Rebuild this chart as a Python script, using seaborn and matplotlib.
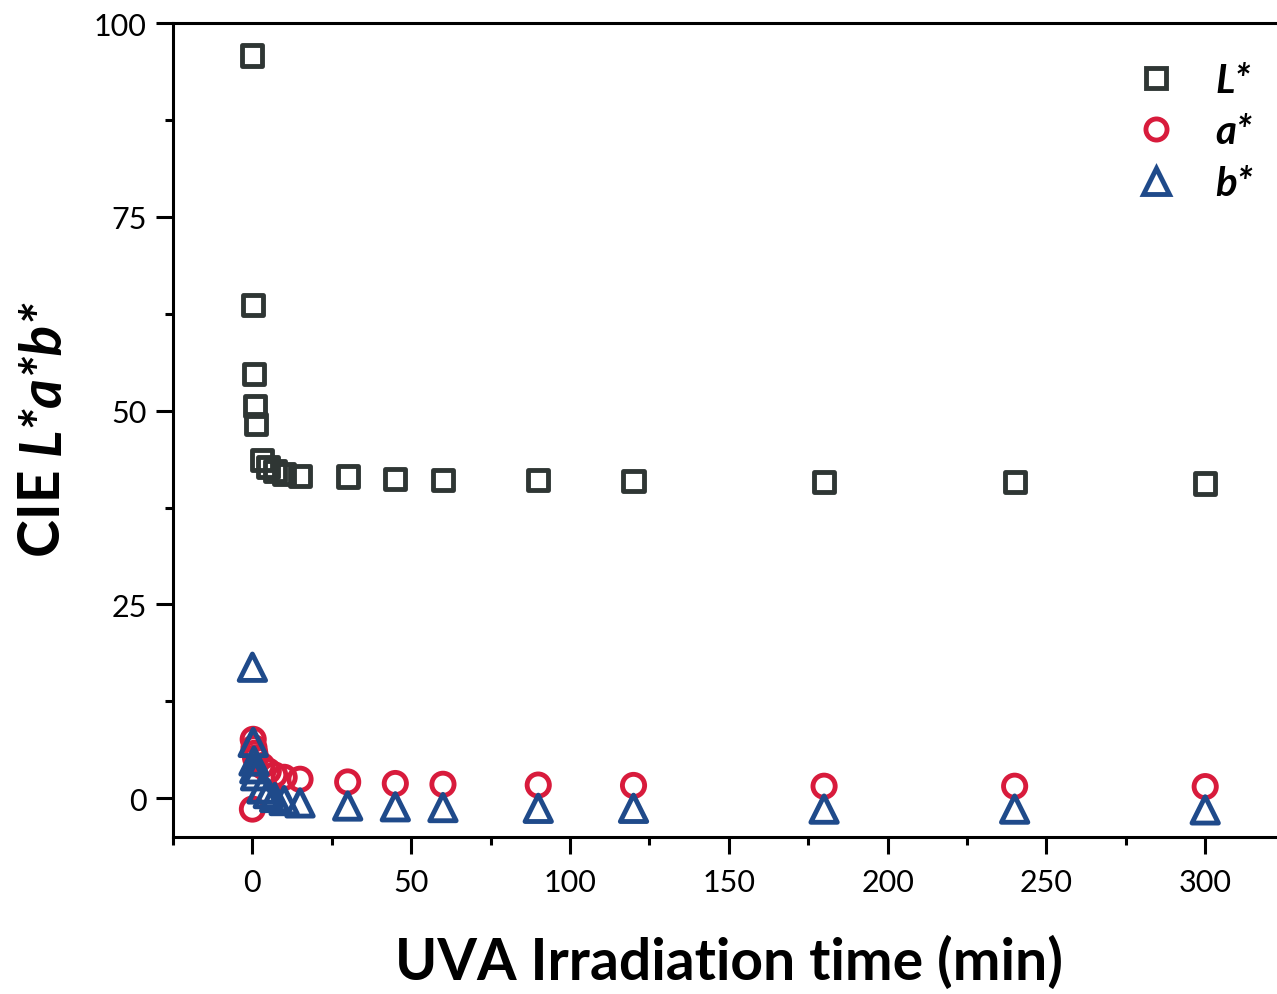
import matplotlib
matplotlib.use("Agg")
import matplotlib.pyplot as plt
import seaborn as sns
import numpy as np
from matplotlib.ticker import MultipleLocator
from matplotlib.lines import Line2D

# ---- data ----
time_min = [0, 0.25, 0.5, 0.75, 1, 3, 5, 7, 10, 15, 30, 45, 60, 90, 120, 180, 240, 300]
L_star = [95.8, 63.6, 54.7, 50.6, 48.3, 43.6, 42.7, 42.2, 41.8, 41.6, 41.5, 41.2, 41.0, 41.0, 40.9, 40.8, 40.8, 40.6]
a_star = [-1.4, 7.6, 6.5, 5.8, 5.2, 4.2, 3.5, 3.0, 2.7, 2.45, 2.1, 1.9, 1.8, 1.7, 1.65, 1.55, 1.55, 1.5]
b_star = [16.9, 7.2, 4.8, 3.8, 2.9, 1.2, 0.6, 0.1, -0.3, -0.6, -1.0, -1.1, -1.2, -1.3, -1.3, -1.4, -1.4, -1.5]
series_labels = ["L*", "a*", "b*"]
x_ticks = [0, 50, 100, 150, 200, 250, 300]
y_ticks = [0, 25, 50, 75, 100]

colors = ["#2f3634", "#d81b3c", "#1f4a8a"]
markers = ["s", "o", "^"]
sizes = [14.5, 16.0, 19.0]
edge_w = 3.5

sns.set_theme(style="white")
plt.rcParams["font.family"] = ["Lato", "DejaVu Sans"]
plt.rcParams["text.color"] = "black"

W, H = 1277, 995
fig = plt.figure(figsize=(W / 100, H / 100), dpi=100)
ax = fig.add_axes([173 / W, 1 - 838 / H, (1284.6 - 173) / W, (838 - 24) / H])

for vals, lab, c, m, ms in zip([L_star, a_star, b_star], series_labels, colors, markers, sizes):
    sns.scatterplot(x=time_min, y=vals, ax=ax, marker=m, s=ms ** 2,
                    facecolor="none", edgecolor=c, linewidth=edge_w, legend=False, zorder=3)

ax.set_xlim(-25, 325)
ax.set_ylim(-5, 100)
ax.set_xticks(x_ticks)
ax.set_yticks(y_ticks)
ax.xaxis.set_minor_locator(MultipleLocator(25))
ax.yaxis.set_minor_locator(MultipleLocator(12.5))
ax.tick_params(axis="both", which="major", direction="out", length=12, width=2.2,
               labelsize=22, color="black", labelcolor="black", bottom=True, left=True)
ax.tick_params(axis="x", which="major", pad=10)
ax.tick_params(axis="y", which="major", pad=7)
ax.tick_params(axis="both", which="minor", direction="out", length=6, width=2.2,
               color="black", bottom=True, left=True)

for side in ["left", "bottom", "top", "right"]:
    ax.spines[side].set_linewidth(2.2)
    ax.spines[side].set_color("black")
    ax.spines[side].set_visible(True)

ax.set_xlabel("UVA Irradiation time (min)", fontsize=41, fontweight="bold", labelpad=28, color="black")
ax.set_ylabel("")

# y label: "CIE " upright bold + "L*a*b*" bold italic
fig.canvas.draw()
renderer = fig.canvas.get_renderer()
xlab = 43 / W
y0 = 1 - 557 / H
t1 = fig.text(xlab, y0, "CIE ", rotation=90, rotation_mode="anchor", ha="left", va="center",
              fontsize=41, fontweight="bold", color="black")
bb = t1.get_window_extent(renderer=renderer)
t2 = fig.text(xlab, y0 + bb.height / H, "L*a*b*", rotation=90, rotation_mode="anchor",
              ha="left", va="center", fontsize=41, fontweight="bold", fontstyle="italic", color="black")

# legend
handles = [Line2D([], [], linestyle="none", marker=m, markersize=ms * 0.95, markerfacecolor="none",
                  markeredgecolor=c, markeredgewidth=edge_w) for m, c, ms in zip(markers, colors, sizes)]
leg = ax.legend(handles, series_labels, loc="upper right", bbox_to_anchor=(1 + 5 / 1111, 0.997),
                frameon=False, handletextpad=0.67, labelspacing=0.36, handlelength=1.6,
                labelcolor="black",
                prop={"size": 29, "weight": "bold", "style": "italic", "family": ["Lato"]})

fig.savefig("out.png", dpi=100)
